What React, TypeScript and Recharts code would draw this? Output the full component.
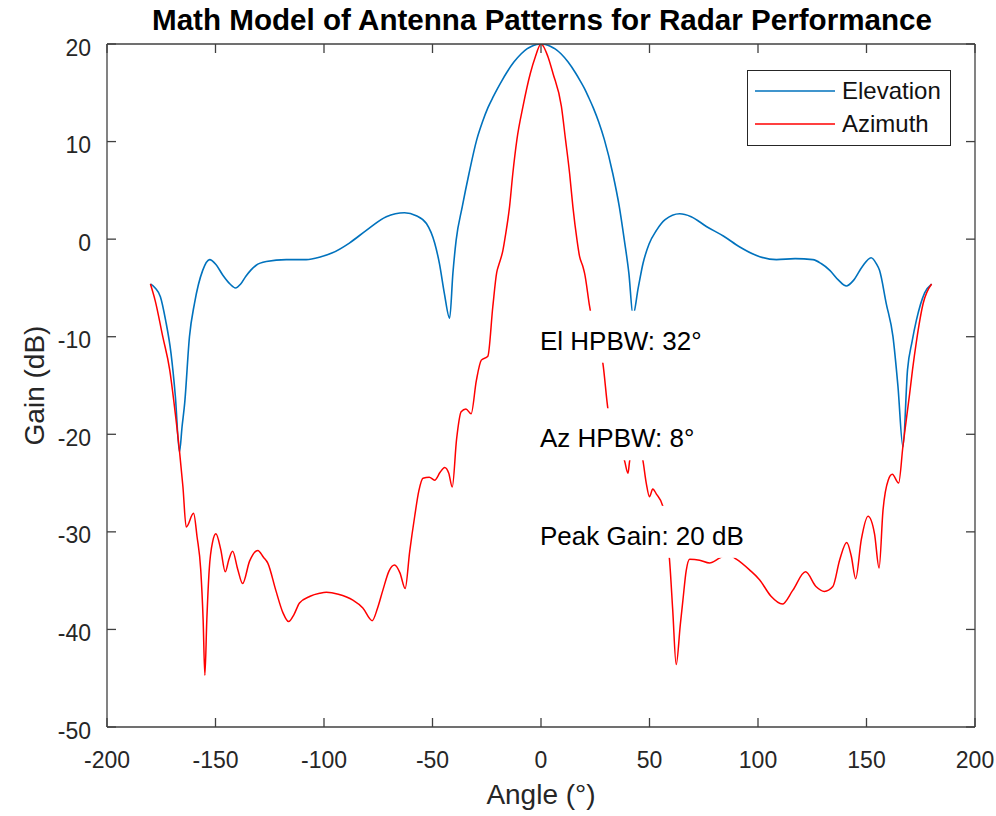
import React from 'react';
import { LineChart, Line, XAxis, YAxis, ReferenceDot, Legend } from 'recharts';

// axis ticks
const X_TICKS = [-200, -150, -100, -50, 0, 50, 100, 150, 200];
const Y_TICKS = [-50, -40, -30, -20, -10, 0, 10, 20];

// elevation pattern (deg, dB)
const EL_ANGLE = [
  -180, -177.8, -175.4, -173, -170.5, -168.5, -166.6, -165.4, -164.2, -162, -159.7, -155.9, -152.7,
  -149.8, -146.6, -143.3, -140.8, -138.4, -136, -131.4, -126.6, -117.4, -108.2, -101.4, -96.1, -88.3,
  -80.5, -71.3, -62.9, -57.5, -52.8, -49, -46.8, -44.5, -42.1, -40.6, -39.1, -36.3, -33.2, -29.6,
  -27, -24.5, -22, -20, -18, -16, -12.5, -9.1, -6.5, -4.5, -2, 0, 2, 4.5, 6.5, 9.2, 12.5, 16, 18, 20,
  21.8, 24.1, 26.6, 29.2, 33.1, 36.1, 38.4,
  40.5, 42.4, 44.8, 47, 49.8, 53.2, 57.2, 63.9, 69.2, 76.2, 84.2, 91.6, 100.8, 108.5, 117.1, 125.3,
  129.1, 133.1, 137.1, 140.7, 144.1, 148.1, 152.1, 154.5, 156, 159.1, 162.2, 164.5, 166.8, 168.9,
  171, 173, 176.8, 180,
];
const EL_GAIN = [
  -4.6, -5.0, -5.9, -8.3, -11.7, -16.1, -21.8, -19.2, -16.8, -10, -6.6, -3.2, -2.1,
  -2.6, -3.7, -4.6, -5.0, -4.6, -3.8, -2.7, -2.3, -2.1, -2.1, -1.8, -1.4, -0.4,
  0.9, 2.3, 2.7, 2.4, 1.6, -0.4, -2.5, -5.6, -8.1, -3.5, -0.1, 3.3, 6.7, 10.2,
  12.0, 13.45, 14.6, 15.45, 16.25, 17.0, 18.15, 19.0, 19.5, 19.75, 19.95, 20, 19.95, 19.75, 19.5, 19.0, 18.15, 17.0, 16.25, 15.45,
  14.6, 13.45, 12.0, 10.2, 6.7, 3.3, -0.1,
  -3.5, -7.8, -5.0, -2.5, -0.5, 0.9, 2.0, 2.6, 2.3, 1.3, 0.3, -0.8, -1.8, -2.1, -2.0, -2.1,
  -2.5, -3.2, -4.2, -4.8, -4.2, -2.8, -1.9, -2.5, -3.2, -6.6, -10, -15.1, -21.3, -13.4,
  -10.5, -8.3, -5.5, -4.6,
];

// azimuth pattern (deg, dB)
const AZ_ANGLE = [
  -180, -177.8, -174.3, -171.1, -169.1, -166.6, -165, -163.5, -160.1, -158.5, -156.8, -155.7, -154.9,
  -154, -152.9, -151.3, -149.8, -147.6, -145.5, -143.8, -142.1, -139.8, -137.5, -134.3, -130.5, -127.9,
  -125.9, -122.2, -118.9, -116.3, -113.9, -111.3, -106.4, -102, -98.9, -93.4, -86.7, -82.1, -77.8,
  -75.3, -72.9, -70, -67.5, -65, -62.6, -60.5, -58.2, -56.3, -54.4, -51.5, -49, -46.5, -44.4, -42.5,
  -40.9, -38.9, -36.8, -34.6, -32.2, -29.8, -27.5, -24.5, -22.2, -20.4, -19.4, -17.6, -16.3, -14.5,
  -13, -11.1, -8.3, -4.9, -2.6, 0, 3.2, 5.5, 9.4, 11.3, 13.2, 14.7, 16.6, 17.8, 19.3, 20.1, 22.4,
  25.5, 28.5, 30.9, 33.3, 35.8, 38.6, 40.1, 40.8, 43.8, 46.9, 48.5, 50, 51.5, 53.1, 56.2, 57.7, 59.2,
  60.7, 62.3, 64.2, 65.4, 66.9, 68.5, 73.1, 77.7, 82.2, 85.7, 90, 96.1, 100.7, 106, 111.2, 116, 121.9,
  126.7, 130.6, 134.5, 137.6, 140.9, 143, 145, 147.6, 150.7, 153.7, 155.8, 157.6, 160, 161.9, 164.8,
  166.8, 169.9, 171.2, 173, 176.1, 180,
];
const AZ_GAIN = [
  -4.6, -6.3, -10, -13.4, -16.8, -21.7, -25.4, -29.5, -28.1, -30.5, -33.9, -39, -44.7,
  -39, -33.9, -31.0, -30.2, -31.8, -34.1, -32.8, -32.0, -33.8, -35.3, -33.0, -31.9, -32.6,
  -33.2, -36.0, -38.3, -39.2, -38.5, -37.3, -36.6, -36.3, -36.2, -36.4, -37.0, -37.8, -39.1,
  -37.8, -36.0, -34.0, -33.4, -34.2, -35.8, -32, -28.4, -25.8, -24.5, -24.4, -24.7, -23.9, -23.4, -24,
  -25.4, -20.5, -17.7, -17.4, -17.9, -14.5, -12.4, -12.0, -6.9, -3.4, -2.6, -1.2, 0.5, 3.3,
  6.7, 10.2, 13.6, 17.0, 18.7, 20, 18.7, 17.0, 13.6, 10.2, 6.7, 3.3, -0.1, -1.8, -2.8, -3.5, -6.9,
  -10.5, -12.7, -17.5, -19.5, -20.5, -22.8, -24.0, -22.8, -20.8, -22.6, -25, -26.4, -25.6, -26.1, -27.4, -30, -32.8,
  -38, -43.6, -39.5, -37, -34, -32.8, -32.9, -33.2, -32.7, -32.3, -32.8, -33.9, -34.9, -36.6, -37.4, -36.0, -34.1,
  -35.6, -36.1, -35.6, -32.9, -31.1, -32.5, -34.8, -30.8, -28.4, -30.2, -33.7, -27.8, -24.7, -24.1, -25.0,
  -21.2, -15.8, -13.4, -10.5, -6.6, -4.6,
];

const SERIES = ['Elevation', 'Azimuth'];
const NOTES = ['El HPBW: 32°', 'Az HPBW: 8°', 'Peak Gain: 20 dB'];
const NOTE_Y = [-10, -20, -30];
const NOTE_X = 0;

const COLORS = ['#0072BD', '#FF0000'];
const AXIS = '#404040';
const TXT = '#262626';
const FONT = '"Liberation Sans", Arial, Helvetica, sans-serif';

const elData = EL_ANGLE.map((a, i) => ({ angle: a, gain: EL_GAIN[i] }));
const azData = AZ_ANGLE.map((a, i) => ({ angle: a, gain: AZ_GAIN[i] }));

let ctx: CanvasRenderingContext2D | null = null;
function textWidth(s: string, size: number) {
  if (!ctx) ctx = document.createElement('canvas').getContext('2d');
  if (!ctx) return s.length * size * 0.55;
  ctx.font = `${size}px ${FONT}`;
  return ctx.measureText(s).width;
}

function Tick(props: any) {
  const { x, y, payload, side } = props;
  const v = payload.value;
  if (side === 'bottom') {
    return (
      <g>
        <line x1={x} y1={y} x2={x} y2={y - 9} stroke={AXIS} strokeWidth={1.3} />
        <text x={x} y={y + 41} textAnchor="middle" fontSize={23} fill={TXT} fontFamily={FONT}>{v}</text>
      </g>
    );
  }
  if (side === 'top') {
    return <line x1={x} y1={y} x2={x} y2={y + 9} stroke={AXIS} strokeWidth={1.3} />;
  }
  if (side === 'left') {
    return (
      <g>
        <line x1={x} y1={y} x2={x + 9} y2={y} stroke={AXIS} strokeWidth={1.3} />
        <text x={x - 16} y={y + 11.5} textAnchor="end" fontSize={23} fill={TXT} fontFamily={FONT}>{v}</text>
      </g>
    );
  }
  return <line x1={x} y1={y} x2={x - 9} y2={y} stroke={AXIS} strokeWidth={1.3} />;
}

function NoteShape(props: any) {
  const { cx, cy, text } = props;
  const w = textWidth(text, 26);
  return (
    <g>
      <rect x={cx - 5} y={cy - 26} width={w + 9} height={52} fill="#ffffff" />
      <text x={cx - 1} y={cy + 13} fontSize={26} fill="#000" fontFamily={FONT}>{text}</text>
    </g>
  );
}

function LegendBox() {
  return (
    <div style={{
      width: 204, height: 76, boxSizing: 'border-box', border: '1.4px solid #262626',
      background: '#fff', paddingTop: 3, fontFamily: FONT,
    }}>
      {SERIES.map((name, i) => (
        <div key={name} style={{ display: 'flex', alignItems: 'center', height: 33 }}>
          <svg width={87} height={4} style={{ display: 'block' }}>
            <line x1={7} x2={87} y1={2} y2={2} stroke={COLORS[i]} strokeWidth={1.6} />
          </svg>
          <span style={{ marginLeft: 7, fontSize: 24, color: '#111', lineHeight: '24px' }}>{name}</span>
        </div>
      ))}
    </div>
  );
}

export default function App() {
  return (
    <div style={{ position: 'absolute', left: 0, top: 0, width: 996, height: 816, background: '#fff' }}>
      <LineChart width={996} height={816} margin={{ top: 43, right: 20, left: 0, bottom: 0 }}>
        <XAxis
          xAxisId="bottom" dataKey="angle" type="number" domain={[-200, 200]} ticks={X_TICKS}
          allowDataOverflow height={89} tickSize={0} tickMargin={0}
          axisLine={{ stroke: AXIS, strokeWidth: 1.3 }} tickLine={false}
          tick={(p: any) => <Tick {...p} side="bottom" />}
          label={{
            content: ({ viewBox }: any) => (
              <text x={viewBox.x + viewBox.width / 2} y={viewBox.y + 77} textAnchor="middle"
                fontSize={28} fill={TXT} fontFamily={FONT}>Angle (°)</text>
            ),
          }}
        />
        <XAxis
          xAxisId="top" orientation="top" dataKey="angle" type="number" domain={[-200, 200]} ticks={X_TICKS}
          allowDataOverflow height={1} tickSize={0} tickMargin={0}
          axisLine={{ stroke: AXIS, strokeWidth: 1.3 }} tickLine={false}
          tick={(p: any) => <Tick {...p} side="top" />}
          label={{
            content: ({ viewBox }: any) => (
              <text x={viewBox.x + viewBox.width / 2 + 1} y={viewBox.y - 13} textAnchor="middle"
                fontSize={29.6} fontWeight="bold" fill="#000" fontFamily={FONT}>
                Math Model of Antenna Patterns for Radar Performance
              </text>
            ),
          }}
        />
        <YAxis
          yAxisId="left" type="number" domain={[-50, 20]} ticks={Y_TICKS} allowDataOverflow
          width={107} tickSize={0} tickMargin={0}
          axisLine={{ stroke: AXIS, strokeWidth: 1.3 }} tickLine={false}
          tick={(p: any) => <Tick {...p} side="left" />}
          label={{
            content: ({ viewBox }: any) => {
              const cx = 34;
              const cy = viewBox.y + viewBox.height / 2;
              return (
                <text x={cx} y={cy} transform={`rotate(-90 ${cx} ${cy})`} textAnchor="middle"
                  dominantBaseline="central" fontSize={28} fill={TXT} fontFamily={FONT}>Gain (dB)</text>
              );
            },
          }}
        />
        <YAxis
          yAxisId="right" orientation="right" type="number" domain={[-50, 20]} ticks={Y_TICKS}
          allowDataOverflow width={1} tickSize={0} tickMargin={0}
          axisLine={{ stroke: AXIS, strokeWidth: 1.3 }} tickLine={false}
          tick={(p: any) => <Tick {...p} side="right" />}
        />
        <Line
          xAxisId="bottom" yAxisId="left" data={elData} dataKey="gain" type="monotone"
          stroke={COLORS[0]} strokeWidth={1.6} dot={false} isAnimationActive={false} name={SERIES[0]}
        />
        <Line
          xAxisId="bottom" yAxisId="left" data={azData} dataKey="gain" type="monotone"
          stroke={COLORS[1]} strokeWidth={1.5} dot={false} isAnimationActive={false} name={SERIES[1]}
        />
        {NOTES.map((t, i) => (
          <ReferenceDot
            key={t} xAxisId="bottom" yAxisId="left" x={NOTE_X} y={NOTE_Y[i]} r={0}
            zIndex={1500} shape={(p: any) => <NoteShape {...p} text={t} />}
          />
        ))}
        <Legend
          layout="horizontal" verticalAlign="middle" align="center"
          wrapperStyle={{ left: 747, top: 70, width: 204, height: 76 }}
          content={() => <LegendBox />}
        />
      </LineChart>
    </div>
  );
}
